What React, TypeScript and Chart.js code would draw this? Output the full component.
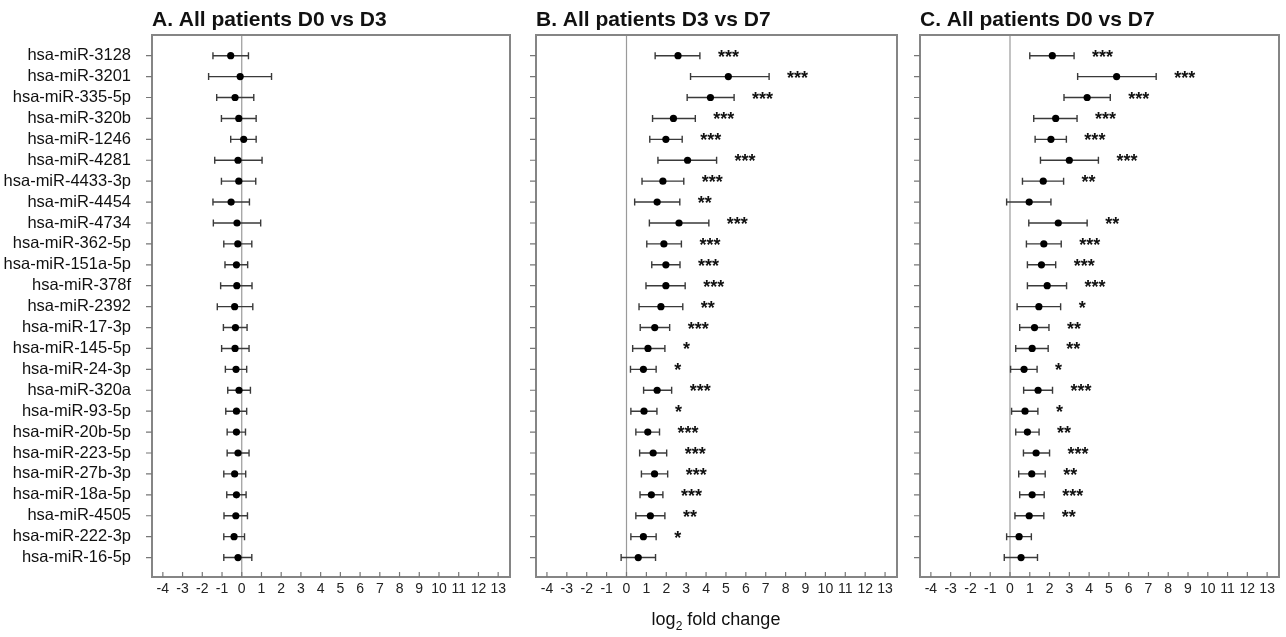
import React, { useEffect, useRef } from "react";
import { Chart, registerables } from "chart.js";
Chart.register(...registerables);

const mirnas = [
  "hsa-miR-3128", "hsa-miR-3201", "hsa-miR-335-5p", "hsa-miR-320b", "hsa-miR-1246",
  "hsa-miR-4281", "hsa-miR-4433-3p", "hsa-miR-4454", "hsa-miR-4734", "hsa-miR-362-5p",
  "hsa-miR-151a-5p", "hsa-miR-378f", "hsa-miR-2392", "hsa-miR-17-3p", "hsa-miR-145-5p",
  "hsa-miR-24-3p", "hsa-miR-320a", "hsa-miR-93-5p", "hsa-miR-20b-5p", "hsa-miR-223-5p",
  "hsa-miR-27b-3p", "hsa-miR-18a-5p", "hsa-miR-4505", "hsa-miR-222-3p", "hsa-miR-16-5p",
];

const xTicks = [-4, -3, -2, -1, 0, 1, 2, 3, 4, 5, 6, 7, 8, 9, 10, 11, 12, 13];

const titles = ["A. All patients D0 vs D3", "B. All patients D3 vs D7", "C. All patients D0 vs D7"];

// Panel A: D0 vs D3
const meanA = [-0.56, -0.08, -0.34, -0.15, 0.10, -0.19, -0.15, -0.54, -0.24, -0.20, -0.27, -0.25, -0.36, -0.32, -0.34, -0.29, -0.14, -0.27, -0.27, -0.19, -0.36, -0.27, -0.30, -0.39, -0.19];
const lowA = [-1.46, -1.68, -1.27, -1.03, -0.56, -1.37, -1.03, -1.46, -1.44, -0.91, -0.85, -1.07, -1.24, -0.93, -1.02, -0.83, -0.71, -0.81, -0.74, -0.74, -0.91, -0.76, -0.90, -0.91, -0.91];
const highA = [0.34, 1.51, 0.61, 0.73, 0.73, 1.03, 0.71, 0.39, 0.96, 0.51, 0.30, 0.52, 0.56, 0.27, 0.37, 0.25, 0.44, 0.25, 0.19, 0.37, 0.20, 0.22, 0.29, 0.14, 0.51];
const sigA = ["", "", "", "", "", "", "", "", "", "", "", "", "", "", "", "", "", "", "", "", "", "", "", "", ""];

// Panel B: D3 vs D7
const meanB = [2.59, 5.12, 4.22, 2.36, 1.98, 3.07, 1.83, 1.54, 2.64, 1.88, 1.98, 1.98, 1.73, 1.42, 1.08, 0.85, 1.54, 0.88, 1.07, 1.34, 1.41, 1.25, 1.20, 0.85, 0.59];
const lowB = [1.44, 3.22, 3.05, 1.31, 1.17, 1.58, 0.78, 0.41, 1.15, 1.02, 1.27, 0.98, 0.63, 0.69, 0.31, 0.20, 0.86, 0.22, 0.47, 0.66, 0.75, 0.68, 0.47, 0.22, -0.27];
const highB = [3.69, 7.17, 5.41, 3.46, 2.80, 4.53, 2.88, 2.68, 4.14, 2.76, 2.69, 2.95, 2.83, 2.17, 1.93, 1.49, 2.27, 1.53, 1.66, 2.02, 2.07, 1.83, 1.93, 1.49, 1.46];
const sigB = ["***", "***", "***", "***", "***", "***", "***", "**", "***", "***", "***", "***", "**", "***", "*", "*", "***", "*", "***", "***", "***", "***", "**", "*", ""];

// Panel C: D0 vs D7
const meanC = [2.14, 5.39, 3.90, 2.31, 2.07, 3.00, 1.68, 0.97, 2.44, 1.71, 1.59, 1.88, 1.46, 1.24, 1.12, 0.71, 1.42, 0.76, 0.88, 1.32, 1.10, 1.12, 0.97, 0.46, 0.56];
const lowC = [1.00, 3.42, 2.73, 1.20, 1.27, 1.54, 0.63, -0.17, 0.95, 0.83, 0.88, 0.88, 0.36, 0.49, 0.29, 0.03, 0.69, 0.08, 0.29, 0.68, 0.44, 0.49, 0.25, -0.17, -0.29];
const highC = [3.24, 7.39, 5.07, 3.39, 2.85, 4.47, 2.71, 2.07, 3.90, 2.59, 2.31, 2.86, 2.56, 1.97, 1.93, 1.37, 2.15, 1.41, 1.47, 2.00, 1.78, 1.73, 1.71, 1.08, 1.39];
const sigC = ["***", "***", "***", "***", "***", "***", "**", "", "**", "***", "***", "***", "*", "**", "**", "*", "***", "*", "**", "***", "**", "***", "**", "", ""];

const FONT = "'Liberation Sans', Arial, Helvetica, sans-serif";
const H = 637;

type PanelProps = {
  title: string;
  mean: number[];
  low: number[];
  high: number[];
  sig: string[];
  canvasLeft: number;
  canvasWidth: number;
  areaLeft: number;
  padRight: number;
  showLabels: boolean;
};

function Panel(p: PanelProps) {
  const ref = useRef<HTMLCanvasElement | null>(null);
  useEffect(() => {
    if (!ref.current) return;
    const decor = {
      id: "decor",
      beforeDatasetsDraw(chart: any) {
        const ctx = chart.ctx;
        const { top, bottom } = chart.chartArea;
        const xs = chart.scales.x;
        const ys = chart.scales.y;
        ctx.save();
        // zero line
        const x0 = xs.getPixelForValue(0);
        ctx.strokeStyle = "#9a9a9a";
        ctx.lineWidth = 1.2;
        ctx.beginPath();
        ctx.moveTo(x0, top);
        ctx.lineTo(x0, bottom);
        ctx.stroke();
        // error bars
        ctx.strokeStyle = "#3a3a3a";
        ctx.lineWidth = 1.4;
        for (let i = 0; i < p.mean.length; i++) {
          const y = ys.getPixelForValue(i);
          const a = xs.getPixelForValue(p.low[i]);
          const b = xs.getPixelForValue(p.high[i]);
          ctx.beginPath();
          ctx.moveTo(a, y);
          ctx.lineTo(b, y);
          ctx.moveTo(a, y - 3.5);
          ctx.lineTo(a, y + 3.5);
          ctx.moveTo(b, y - 3.5);
          ctx.lineTo(b, y + 3.5);
          ctx.stroke();
        }
        ctx.restore();
      },
      afterDraw(chart: any) {
        const ctx = chart.ctx;
        const { left, right, top, bottom } = chart.chartArea;
        const xs = chart.scales.x;
        const ys = chart.scales.y;
        ctx.save();
        // box
        ctx.strokeStyle = "#858585";
        ctx.lineWidth = 2;
        ctx.strokeRect(left, top, right - left, bottom - top);
        // x tick marks (inward)
        ctx.lineWidth = 1.2;
        ctx.strokeStyle = "#777";
        ctx.beginPath();
        for (const v of xTicks) {
          const x = xs.getPixelForValue(v);
          ctx.moveTo(x, bottom);
          ctx.lineTo(x, bottom - 5);
        }
        // y tick marks (outward)
        for (let i = 0; i < mirnas.length; i++) {
          const y = ys.getPixelForValue(i);
          ctx.moveTo(left - 6, y);
          ctx.lineTo(left, y);
        }
        ctx.stroke();
        // significance stars
        ctx.fillStyle = "#111";
        ctx.font = `bold 18px ${FONT}`;
        ctx.textAlign = "left";
        ctx.textBaseline = "alphabetic";
        for (let i = 0; i < p.sig.length; i++) {
          if (!p.sig[i]) continue;
          const y = ys.getPixelForValue(i);
          const x = xs.getPixelForValue(p.high[i]) + 18;
          ctx.fillText(p.sig[i], x, y + 7);
        }
        // title
        ctx.fillStyle = "#111";
        ctx.font = `bold 21px ${FONT}`;
        ctx.fillText(p.title, left, 26);
        ctx.restore();
      },
    };

    const chart = new Chart(ref.current, {
      type: "scatter",
      data: {
        datasets: [
          {
            data: p.mean.map((m, i) => ({ x: m, y: i })),
            backgroundColor: "#000",
            borderColor: "#000",
            borderWidth: 0,
            pointRadius: 3.6,
          },
        ],
      },
      options: {
        animation: false,
        responsive: false,
        devicePixelRatio: 1,
        layout: { padding: { top: 35, bottom: 38, left: 0, right: p.padRight } },
        plugins: { legend: { display: false }, tooltip: { enabled: false } },
        scales: {
          x: {
            type: "linear",
            min: -4.55,
            max: 13.6,
            afterBuildTicks: (s: any) => {
              s.ticks = xTicks.map((v) => ({ value: v }));
            },
            afterFit: (s: any) => {
              s.height = 22;
            },
            grid: { display: false },
            border: { display: false },
            ticks: {
              autoSkip: false,
              maxRotation: 0,
              padding: -4,
              color: "#222",
              font: { family: FONT, size: 14 },
              callback: (v: any) => String(v),
            },
          },
          y: {
            type: "linear",
            reverse: true,
            min: -0.99,
            max: 24.93,
            afterBuildTicks: (s: any) => {
              s.ticks = mirnas.map((_, i) => ({ value: i }));
            },
            afterFit: (s: any) => {
              s.width = p.areaLeft;
            },
            grid: { display: false },
            border: { display: false },
            ticks: {
              display: p.showLabels,
              autoSkip: false,
              padding: 13,
              color: "#111",
              font: { family: FONT, size: 16.5 },
              callback: (v: any) => mirnas[v] ?? "",
            },
          },
        },
      },
      plugins: [decor],
    } as any);
    return () => chart.destroy();
  }, []);
  return (
    <canvas
      ref={ref}
      width={p.canvasWidth}
      height={H}
      style={{ position: "absolute", left: p.canvasLeft, top: 0, width: p.canvasWidth, height: H }}
    />
  );
}

export default function App() {
  return (
    <div
      style={{
        position: "fixed",
        left: 0,
        top: 0,
        width: 1286,
        height: H,
        background: "#fff",
        overflow: "hidden",
      }}
    >
      <Panel title={titles[0]} mean={meanA} low={lowA} high={highA} sig={sigA}
        canvasLeft={0} canvasWidth={515} areaLeft={152} padRight={5} showLabels={true} />
      <Panel title={titles[1]} mean={meanB} low={lowB} high={highB} sig={sigB}
        canvasLeft={515} canvasWidth={390} areaLeft={21} padRight={8} showLabels={false} />
      <Panel title={titles[2]} mean={meanC} low={lowC} high={highC} sig={sigC}
        canvasLeft={905} canvasWidth={381} areaLeft={15} padRight={7} showLabels={false} />
      <div
        style={{
          position: "absolute",
          left: 566,
          width: 300,
          top: 609,
          textAlign: "center",
          fontFamily: FONT,
          fontSize: 18,
          color: "#111",
        }}
      >
        log<sub style={{ fontSize: 12 }}>2</sub> fold change
      </div>
    </div>
  );
}
